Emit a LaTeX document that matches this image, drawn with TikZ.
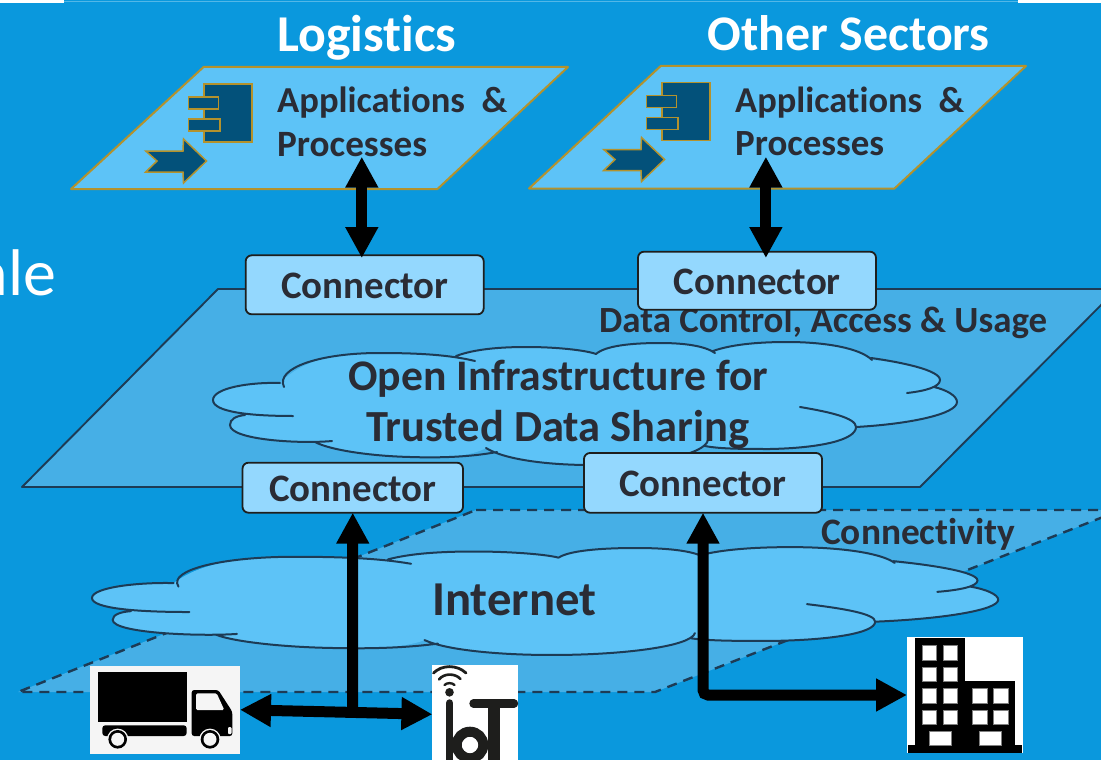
\documentclass[tikz,border=0pt]{standalone}
\usepackage{fontspec}
\usepackage{graphicx}
\setmainfont[Ligatures=NoCommon]{Carlito}
\usetikzlibrary{arrows.meta,calc}
\definecolor{bgblue}{HTML}{0A98DD}
\definecolor{planeblue}{HTML}{46AFE6}
\definecolor{cloudblue}{HTML}{5DC3F7}
\definecolor{connblue}{HTML}{94D8FE}
\definecolor{inkdark}{HTML}{2A2C35}
\definecolor{linedark}{HTML}{1D3B55}
\definecolor{gold}{HTML}{B4922C}
\definecolor{iconblue}{HTML}{03517A}
\definecolor{iotink}{HTML}{1E1E1C}
\definecolor{truckwhite}{HTML}{F5F5F5}
\tikzset{
  lbl/.style={inner sep=0pt,anchor=base west,text=inkdark,font=\bfseries\fontsize{30}{30}\selectfont},
  whitelbl/.style={lbl,text=white},
  connbox/.style={draw=iotink,line width=1.8pt,fill=connblue,rounded corners=6pt,inner sep=0pt,outer sep=0pt,anchor=north west},
  appshape/.style={fill=cloudblue,draw=gold,line width=2pt,line join=round},
  iconpart/.style={fill=iconblue,draw=gold,line width=1.5pt},
  cloudfill/.style={fill=cloudblue},
  cloudline/.style={draw=linedark,line width=2pt,line cap=round},
  planeline/.style={fill=planeblue,draw=linedark,line width=1.9pt,line join=round},
  bigarrow/.style={line width=11pt,draw=black,rounded corners=5pt,
    {Triangle[width=31pt,length=31pt]}-{Triangle[width=31pt,length=31pt]}},
  onearrow/.style={line width=11pt,draw=black,
    -{Triangle[width=31pt,length=31pt]}},
  iconbox/.style={minimum width=0pt,minimum height=0pt,inner sep=0pt,outer sep=0pt,anchor=north west},
}
\newcommand\wtext[2]{\resizebox{#1pt}{!}{#2}}
\newcommand\cloudshape{%
  \path[cloudfill] (293,416) .. controls (250,416) and (213,412) .. (213,400)
    .. controls (213,388) and (250,382) .. (280,383)
    .. controls (300,362) and (330,353) .. (379,353)
    .. controls (420,353) and (450,355) .. (475,361)
    -- (456,356) .. controls (475,349) and (500,347) .. (527,347)
    .. controls (555,347) and (585,350) .. (596,354)
    .. controls (605,346) and (630,343) .. (660,343)
    .. controls (685,343) and (705,346) .. (715,353)
    -- (713,351) .. controls (730,345) and (755,342) .. (787,342)
    .. controls (825,342) and (860,348) .. (872,360)
    .. controls (900,362) and (940,370) .. (940,380)
    .. controls (940,383) and (938,385) .. (934,387)
    .. controls (947,390) and (957,396) .. (957,402)
    .. controls (957,414) and (910,424) .. (856,427)
    .. controls (856,440) and (820,448) .. (770,449)
    .. controls (745,449) and (720,449) .. (705,446)
    .. controls (695,455) and (650,465) .. (590,465)
    .. controls (550,465) and (505,460) .. (486,448)
    .. controls (470,457) and (440,458) .. (410,457)
    .. controls (370,456) and (330,450) .. (315,442)
    .. controls (280,442) and (230,438) .. (230,425)
    .. controls (230,419) and (236,416) .. (245,415) -- cycle;
  \path[cloudline]
    (293,416) .. controls (250,416) and (213,412) .. (213,400)
      .. controls (213,388) and (250,382) .. (280,383)
    (284,387) .. controls (275,368) and (320,353) .. (379,353)
      .. controls (420,353) and (450,355) .. (475,361)
    (456,356) .. controls (475,349) and (500,347) .. (527,347)
      .. controls (555,347) and (585,350) .. (596,354)
    (596,354) .. controls (605,346) and (630,343) .. (660,343)
      .. controls (685,343) and (705,346) .. (715,353)
    (713,351) .. controls (730,345) and (755,342) .. (787,342)
      .. controls (825,342) and (860,348) .. (872,360)
    (871,358) .. controls (900,362) and (940,370) .. (940,380)
      .. controls (940,387) and (925,391) .. (907,393)
    (934,387) .. controls (947,390) and (957,396) .. (957,402)
      .. controls (957,414) and (910,424) .. (856,427)
    (800,407) .. controls (830,412) and (856,418) .. (856,427)
      .. controls (856,440) and (820,448) .. (770,449)
      .. controls (745,449) and (720,449) .. (705,446)
    (708,440) .. controls (705,455) and (650,465) .. (590,465)
      .. controls (550,465) and (505,460) .. (486,448)
    (497,452) .. controls (470,457) and (440,458) .. (410,457)
      .. controls (370,456) and (330,450) .. (315,442)
    (332,441) .. controls (300,444) and (230,440) .. (230,425)
      .. controls (230,419) and (236,416) .. (245,415);
}
\newcommand\appicon{%
  \path[iconpart] (204,84) rectangle (252,142);
  \path[iconpart] (188.5,97) rectangle (218.5,109);
  \path[iconpart] (188.5,119) rectangle (220,131);
  \path[iconpart,line join=miter] (145.7,151) -- (183,151) -- (183.5,139) -- (206.5,161)
    -- (183.5,183) -- (183,172) -- (145.7,172) -- (157,161) -- cycle;
}
\begin{document}
\begin{tikzpicture}[x=1pt,y=-1pt]
\useasboundingbox (0,0) rectangle (1101,760);
\clip (0,0) rectangle (1101,760);
\fill[bgblue] (0,0) rectangle (1101,760);
\fill[white] (0,0) rectangle (64,3);
\fill[white] (1018,0) rectangle (1101,3);
\draw[line width=1pt,color=bgblue!70!white] (64,1.5) -- (1018,1.5);
% clipped slide title fragment
\node[inner sep=0pt,anchor=base east,text=white,font=\fontsize{66}{66}\selectfont] (frag) at (56.5,295) {ale};
% planes
\path[planeline] (218,289) -- (1117,289) -- (920,487) -- (22,487) -- cycle;
\path[planeline,line width=2.4pt,dash pattern=on 10pt off 7pt] (476,510) -- (1121,510) -- (655,692) -- (18,692) -- cycle;
% clouds
\begin{scope}
  \cloudshape
\end{scope}
\begin{scope}[shift={(92,548)},xscale=1.218,yscale=0.877,shift={(-213,-343)}]
  \cloudshape
\end{scope}
% application planes
\path[appshape] (203.6,67) -- (568,67) -- (437.5,189) -- (71,189) -- cycle;
\path[appshape] (660.7,66) -- (1026,66) -- (894.5,188.5) -- (529,188.5) -- cycle;
\appicon
\begin{scope}[shift={(458,-1.5)}]
  \appicon
\end{scope}
% labels
\node[whitelbl] (logi) at (277,52) {\wtext{179}{Logistics}};
\node[whitelbl] (other) at (707.6,51) {\wtext{282}{Other Sectors}};
\node[lbl] (app1a) at (277,113) {\wtext{230}{Applications\ \ \&}};
\node[lbl] (app1b) at (277,156) {\wtext{150}{Processes}};
\node[lbl] (app2a) at (735,112) {\wtext{229}{Applications\ \ \&}};
\node[lbl] (app2b) at (735,155) {\wtext{149}{Processes}};
\node[lbl] (dcau) at (599,332) {\wtext{448}{Data Control, Access \& Usage}};
\node[lbl] (open1) at (348,390) {\wtext{420}{Open Infrastructure for}};
\node[lbl] (open2) at (366,441) {\wtext{383}{Trusted Data Sharing}};
\node[lbl] (conn) at (821,544) {\wtext{194}{Connectivity}};
\node[lbl] (inet) at (432,615) {\wtext{164}{Internet}};
% connector boxes
\node[connbox,minimum width=238pt,minimum height=59pt] (c1) at (245.7,255.3) {};
\node[connbox,minimum width=238pt,minimum height=58pt] (c2) at (638,251.7) {};
\node[connbox,minimum width=220.5pt,minimum height=50pt] (c3) at (242.5,462.7) {};
\node[connbox,minimum width=238pt,minimum height=59.7pt] (c4) at (584,453) {};
\node[lbl] at (281,298) {\wtext{167}{Connector}};
\node[lbl] at (673.5,294) {\wtext{167}{Connector}};
\node[lbl] at (269,501) {\wtext{167}{Connector}};
\node[lbl] at (619,496) {\wtext{167}{Connector}};
% truck
\node[iconbox,fill=truckwhite,minimum width=150pt,minimum height=87.5pt] (truck) at (90,666) {};
\fill[black] (97.7,672) rectangle (186.7,722);
\fill[black,rounded corners=2.5pt] (191.7,690) -- (218.3,690) -- (232.3,711.7) -- (232.3,736) -- (191.7,736) -- cycle;
\fill[truckwhite,rounded corners=1.5pt] (196,693.3) -- (216.7,693.3) -- (224.3,710) -- (196,710) -- cycle;
\fill[black,rounded corners=3pt] (102.3,725.3) -- (186.7,725.3) -- (186.7,736) -- (102.3,736) -- cycle;
\foreach \wx in {117.7,210}{
  \fill[truckwhite] (\wx,739.3) circle (10.7);
  \fill[black] (\wx,739.3) circle (9.3);
  \fill[truckwhite] (\wx,739.3) circle (6.5);
}
\fill[truckwhite,rounded corners=1pt] (228,727) rectangle (231.5,734);
% IoT
\node[iconbox,fill=white,minimum width=86pt,minimum height=95pt] (iot) at (432.4,665) {};
\begin{scope}
\clip (432.4,665) rectangle (518.4,760);
\fill[iotink] (449.5,692.3) circle (4.3);
\draw[iotink,line width=2.4pt,line cap=round] (444.5,685) .. controls (447,682.5) and (452,682.5) .. (454.5,685);
\draw[iotink,line width=2.6pt,line cap=round] (439,679.5) .. controls (444,673) and (455,673) .. (460.5,679);
\draw[iotink,line width=2.8pt,line cap=round] (433.5,673) .. controls (442,664.5) and (457,664.5) .. (466,673);
\draw[iotink,line width=7.5pt,line cap=round] (449.7,703) -- (449.7,770);
\draw[iotink,line width=10pt] (470,745) circle (13.3);
\draw[iotink,line width=8.4pt,line cap=round] (473.5,703.5) -- (514,703.5);
\draw[iotink,line width=12pt] (494,703.5) -- (494,770);
\end{scope}
% building
\node[iconbox,fill=white,minimum width=116pt,minimum height=116.6pt] (bldg) at (907,636.7) {};
\fill[black] (915.3,638) rectangle (965.3,745);
\fill[black] (965.3,681) rectangle (1015,745);
\fill[black] (908,745) rectangle (1022,752.7);
\foreach \wx/\wy in {922/645.5,943/645.5,922/667,943/667,922/688.5,943/688.5,972.5/688.5,993.5/688.5,922/710,943/710,972.5/710,993.5/710}{
  \fill[white,draw=gray,line width=.5pt] (\wx,\wy) rectangle ++(14.5,14.5);
}
\fill[white,draw=gray,line width=.5pt] (929.5,731) rectangle (951,745.5);
\fill[white,draw=gray,line width=.5pt] (979.5,731) rectangle (1001,745.5);
% connectors
\coordinate (a1top) at (361.8,156.7);
\coordinate (a1bot) at (361.8,258);
\coordinate (a2top) at (765.9,156.7);
\coordinate (a2bot) at (765.9,258);
\draw[bigarrow] (a1top) -- (a1bot);
\draw[bigarrow] (a2top) -- (a2bot);
\coordinate (c3low) at (352.7,712);
\draw[onearrow] (c3low) -- (c3.south);
\coordinate (tl) at (truck.east);
\coordinate (tr) at (432.4,714.3);
\draw[bigarrow] (tl) -- (tr);
\draw[bigarrow] (c4.south) -- (c4.south |- bldg.west) -- (bldg.west);
\end{tikzpicture}
\end{document}
